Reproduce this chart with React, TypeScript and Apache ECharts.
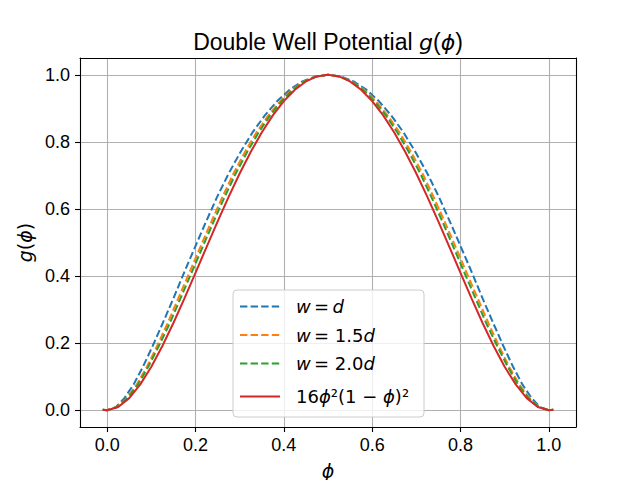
import React, { useEffect, useRef } from "react";
import * as echarts from "echarts";

const phiRed = [-0.01, 0, 0.025, 0.05, 0.075, 0.1, 0.125, 0.15, 0.175, 0.2, 0.225, 0.25, 0.275, 0.3, 0.325, 0.35, 0.375, 0.4, 0.425, 0.45, 0.475, 0.5, 0.525, 0.55, 0.575, 0.6, 0.625, 0.65, 0.675, 0.7, 0.725, 0.75, 0.775, 0.8, 0.825, 0.85, 0.875, 0.9, 0.925, 0.95, 0.975, 1.0, 1.01];
const phiBlue = [-0.01, 0, 0.02, 0.039, 0.06, 0.081, 0.103, 0.126, 0.15, 0.174, 0.199, 0.224, 0.249, 0.275, 0.302, 0.329, 0.357, 0.385, 0.413, 0.442, 0.471, 0.5, 0.529, 0.558, 0.587, 0.615, 0.643, 0.671, 0.698, 0.725, 0.751, 0.776, 0.801, 0.826, 0.85, 0.874, 0.897, 0.919, 0.94, 0.961, 0.98, 1.0, 1.01];
const phiOrange = [-0.01, 0, 0.022, 0.044, 0.067, 0.09, 0.113, 0.137, 0.161, 0.186, 0.211, 0.236, 0.261, 0.286, 0.312, 0.338, 0.365, 0.392, 0.418, 0.446, 0.473, 0.5, 0.527, 0.554, 0.582, 0.608, 0.635, 0.662, 0.688, 0.714, 0.739, 0.764, 0.789, 0.814, 0.839, 0.863, 0.887, 0.91, 0.933, 0.956, 0.978, 1.0, 1.01];
const phiGreen = [-0.01, 0, 0.023, 0.046, 0.07, 0.093, 0.117, 0.142, 0.166, 0.191, 0.216, 0.241, 0.266, 0.291, 0.317, 0.343, 0.369, 0.395, 0.421, 0.447, 0.474, 0.5, 0.526, 0.553, 0.579, 0.605, 0.631, 0.657, 0.683, 0.709, 0.734, 0.759, 0.784, 0.809, 0.834, 0.858, 0.883, 0.907, 0.93, 0.954, 0.977, 1.0, 1.01];
const gValues = [0.0016, 0, 0.0095, 0.0361, 0.077, 0.1296, 0.1914, 0.2601, 0.3335, 0.4096, 0.4865, 0.5625, 0.636, 0.7056, 0.77, 0.8281, 0.8789, 0.9216, 0.9555, 0.9801, 0.995, 1.0, 0.995, 0.9801, 0.9555, 0.9216, 0.8789, 0.8281, 0.77, 0.7056, 0.636, 0.5625, 0.4865, 0.4096, 0.3335, 0.2601, 0.1914, 0.1296, 0.077, 0.0361, 0.0095, 0, 0.0016];

const xTicks = [0, 0.2, 0.4, 0.6, 0.8, 1.0];
const yTicks = [0, 0.2, 0.4, 0.6, 0.8, 1.0];
const seriesNames = ["w = d", "w = 1.5d", "w = 2.0d", "16ϕ²(1 − ϕ)²"];
const colors = ["#1f77b4", "#ff7f0e", "#2ca02c", "#d62728"];

const SANS = "Liberation Sans, Arial, Helvetica, sans-serif";
const MATH = "DejaVu Sans";

export default function App() {
  const ref = useRef<HTMLDivElement>(null);
  useEffect(() => {
    if (!ref.current) return;
    const chart = echarts.init(ref.current, undefined, { renderer: "svg" });
    const xs = [phiBlue, phiOrange, phiGreen, phiRed];
    const series = xs.map((arr, i) => ({
      name: seriesNames[i],
      type: "line",
      data: arr.map((x, j) => [x, gValues[j]]),
      showSymbol: false,
      symbol: "none",
      lineStyle: {
        color: colors[i],
        width: 2,
        type: i < 3 ? [7.4, 3.2] : "solid",
      },
      itemStyle: { color: colors[i] },
      z: 3 + i,
    }));
    const gridStyle = { show: true, lineStyle: { color: "#b0b0b0", width: 1.1 } };
    const legendRows = [306.5, 335, 363.5, 396.5];
    const legendTexts = [
      "{m|w} {n|=} {m|d}",
      "{m|w} {n|= 1.5}{m|d}",
      "{m|w} {n|= 2.0}{m|d}",
      "{n|16}{m|ϕ}{n|²(1 − }{m|ϕ}{n|)²}",
    ];
    const legendRich = {
      m: { fontFamily: MATH, fontStyle: "italic", fontSize: 18, fill: "#000", color: "#000" },
      n: { fontFamily: MATH, fontSize: 18, fill: "#000", color: "#000" },
    };
    const graphic: any[] = [
      {
        type: "text",
        z: 100,
        style: {
          x: 328,
          y: 42,
          text: "{a|Double Well Potential }{m|g}{a|(}{m|ϕ}{a|)}",
          textAlign: "center",
          textVerticalAlign: "middle",
          rich: {
            a: { fontFamily: SANS, fontSize: 23, color: "#000", fill: "#000" },
            m: { fontFamily: MATH, fontStyle: "italic", fontSize: 22, color: "#000", fill: "#000" },
          },
        },
      },
      {
        type: "rect",
        z: 100,
        shape: { x: 233, y: 290, width: 191, height: 127, r: 4 },
        style: { fill: "rgba(255,255,255,0.8)", stroke: "#cccccc", lineWidth: 1 },
      },
    ];
    legendRows.forEach((yy, i) => {
      graphic.push({
        type: "line",
        z: 101,
        shape: { x1: 240, y1: yy, x2: 280, y2: yy },
        style: { stroke: colors[i], lineWidth: 2, lineDash: i < 3 ? [7.4, 3.2] : null },
      });
      graphic.push({
        type: "text",
        z: 101,
        style: {
          x: 296,
          y: yy,
          text: legendTexts[i],
          textAlign: "left",
          textVerticalAlign: "middle",
          rich: legendRich,
        },
      });
    });
    const option: any = {
      animation: false,
      backgroundColor: "#ffffff",
      grid: { left: 80, right: 64, top: 58, bottom: 53, containLabel: false, outerBoundsMode: "none" },
      xAxis: [
        {
          type: "value",
          min: -0.0615,
          max: 1.0615,
          name: "{m|ϕ}",
          nameLocation: "middle",
          nameGap: 34,
          nameTextStyle: {
            rich: { m: { fontFamily: MATH, fontStyle: "italic", fontSize: 19, color: "#000" } },
          },
          axisLine: { show: true, onZero: false, lineStyle: { color: "#000", width: 1.1 } },
          axisTick: { show: true, inside: false, length: 5, customValues: xTicks, lineStyle: { color: "#000", width: 1.1 } },
          axisLabel: {
            show: true,
            customValues: xTicks,
            margin: 9,
            fontFamily: SANS,
            fontSize: 18,
            color: "#000",
            formatter: (v: number) => v.toFixed(1),
          },
          splitLine: gridStyle,
        },
        {
          type: "value",
          position: "top",
          min: -0.0615,
          max: 1.0615,
          axisLine: { show: true, onZero: false, lineStyle: { color: "#000", width: 1.1 } },
          axisTick: { show: false },
          axisLabel: { show: false },
          splitLine: { show: false },
        },
      ],
      yAxis: [
        {
          type: "value",
          min: -0.05,
          max: 1.05,
          name: "{m|g}{n|(}{m|ϕ}{n|)}",
          nameLocation: "middle",
          nameGap: 44,
          nameRotate: 90,
          nameTextStyle: {
            rich: {
              m: { fontFamily: MATH, fontStyle: "italic", fontSize: 19, color: "#000" },
              n: { fontFamily: MATH, fontSize: 19, color: "#000" },
            },
          },
          axisLine: { show: true, onZero: false, lineStyle: { color: "#000", width: 1.1 } },
          axisTick: { show: true, inside: false, length: 5, customValues: yTicks, lineStyle: { color: "#000", width: 1.1 } },
          axisLabel: {
            show: true,
            customValues: yTicks,
            margin: 10,
            fontFamily: SANS,
            fontSize: 18,
            color: "#000",
            formatter: (v: number) => v.toFixed(1),
          },
          splitLine: gridStyle,
        },
        {
          type: "value",
          position: "right",
          min: -0.05,
          max: 1.05,
          axisLine: { show: true, onZero: false, lineStyle: { color: "#000", width: 1.1 } },
          axisTick: { show: false },
          axisLabel: { show: false },
          splitLine: { show: false },
        },
      ],
      series,
      graphic,
    };
    chart.setOption(option);
    return () => chart.dispose();
  }, []);
  return (
    <div
      ref={ref}
      style={{ position: "fixed", left: 0, top: 0, width: 640, height: 480, background: "#fff" }}
    />
  );
}
